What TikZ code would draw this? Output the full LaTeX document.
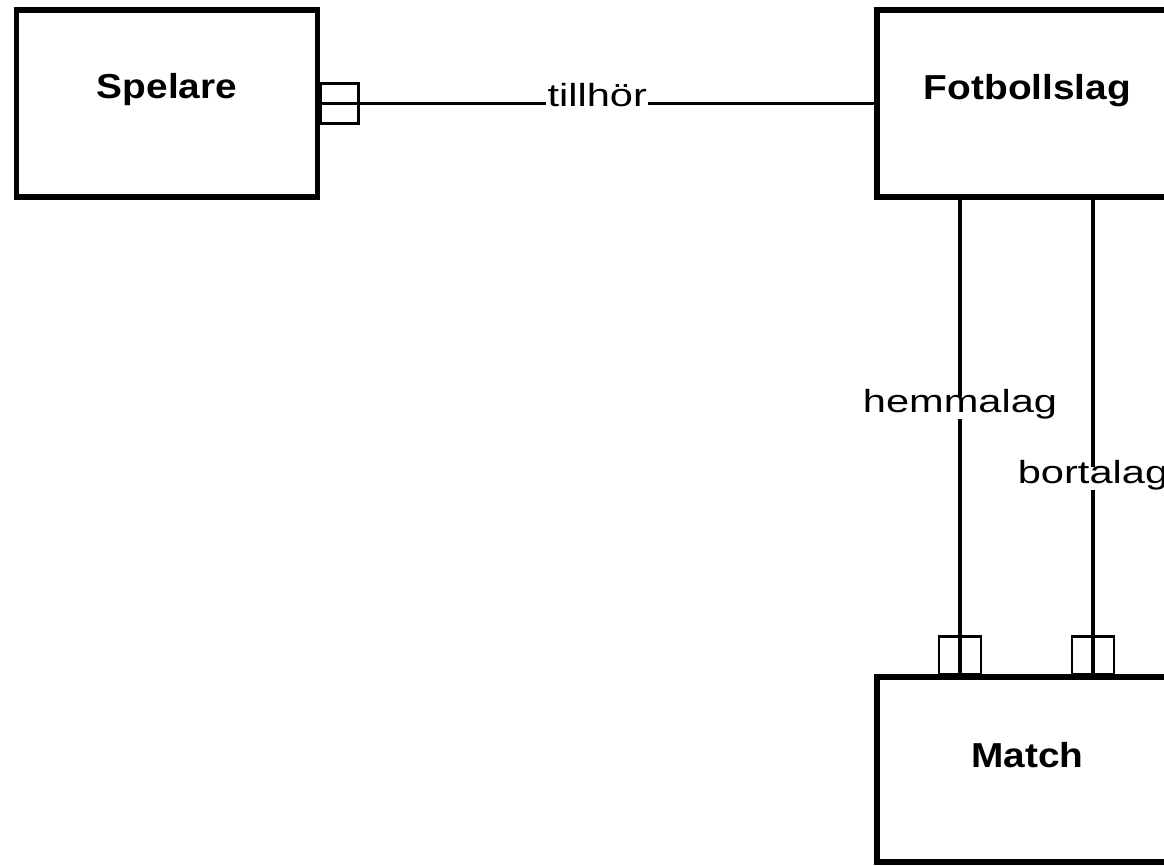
\documentclass[tikz,border=0pt]{standalone}
\usepackage{fontspec}
\setmainfont{Liberation Sans}
\newfontfamily\titlefont[FakeStretch=1.12]{Liberation Sans}
\newfontfamily\relfont[FakeStretch=1.3]{Liberation Sans}
\usetikzlibrary{calc}

\begin{document}
\begin{tikzpicture}[x=0.75pt, y=-0.75pt,
  entity/.style={draw, line width=4.2pt, minimum width=225.75pt, minimum height=140.25pt, inner sep=0pt},
  entitytitle/.style={anchor=base, inner sep=0pt, font=\titlefont\fontsize{26}{31}\selectfont\bfseries},
  rel/.style={line width=2.6pt},
  relmark/.style={line width=2.1pt},
  rellabel/.style={fill=white, anchor=base, inner xsep=1pt, inner ysep=3pt, text height=0.9em, text depth=0.22em, font=\relfont\fontsize{24}{29}\selectfont}]
  \useasboundingbox (0,0) rectangle (1164,865);
  \clip (0,0) rectangle (1164,865);
  \node[entity] (spelare) at (167,103.75) {};
  \node[entity] (fotbollslag) at (1027.5,103.75) {};
  \node[entity, minimum height=138.75pt] (match) at (1027.5,769.5) {};
  \node[entitytitle] (spelaretitle) at ($(spelare.center)+(0,-5.5)$) {Spelare};
  \node[entitytitle] (fotbollslagtitle) at ($(fotbollslag.center)+(0,-4.5)$) {Fotbollslag};
  \node[entitytitle] (matchtitle) at ($(match.center)+(0,-2.5)$) {Match};
  \coordinate (hem) at (960,0);
  \coordinate (bort) at (1093,0);
  \draw[rel] (spelare) -- node[rellabel, yshift=-1.8pt] (tillhor) {tillhör} (fotbollslag);
  \draw[rel] (fotbollslag.south -| hem) -- node[rellabel, pos=0.447] (hemmalag) {hemmalag} (match.north -| hem);
  \draw[rel] (fotbollslag.south -| bort) -- node[rellabel, pos=0.597] (bortalag) {bortalag} (match.north -| bort);
  \draw[relmark] ($(spelare.east)+(0,-20)$) rectangle +(38,40);
  \foreach \c in {hem,bort} { \draw[relmark] ($(match.north -| \c)+(-21,0)$) rectangle +(42,-38); }
\end{tikzpicture}
\end{document}
